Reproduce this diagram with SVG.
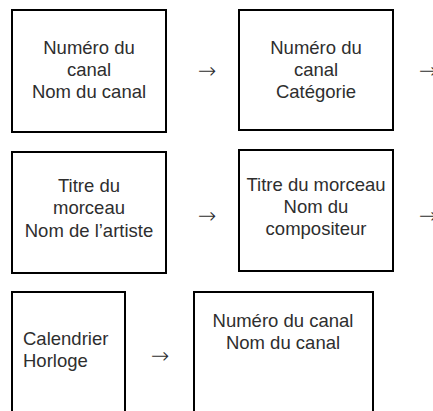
<svg xmlns="http://www.w3.org/2000/svg" width="433" height="411" viewBox="0 0 433 411">
<style>
.box{fill:#fff;stroke:#000;stroke-width:2}
.t{font-family:"Liberation Sans",Arial,sans-serif;font-size:18.5px;fill:#2e2e2e;text-anchor:middle}
.l{text-anchor:start}
.a{font-family:"DejaVu Sans",sans-serif;font-weight:200;font-size:22px;fill:#2e2e2e}
</style>
<rect width="433" height="411" fill="#fff"/>
<g id="n1"><rect class="box" x="12" y="10" width="154" height="122"/>
<text class="t" x="89" y="54">Numéro du</text><text class="t" x="89" y="76">canal</text><text class="t" x="89" y="98">Nom du canal</text></g>
<g id="n2"><rect class="box" x="239" y="10" width="154" height="120"/>
<text class="t" x="316" y="54">Numéro du</text><text class="t" x="316" y="76">canal</text><text class="t" x="316" y="98">Catégorie</text></g>
<g id="n3"><rect class="box" x="12" y="152" width="154" height="121"/>
<text class="t" x="89" y="192">Titre du</text><text class="t" x="89" y="214">morceau</text><text class="t" x="89" y="237">Nom de l’artiste</text></g>
<g id="n4"><rect class="box" x="239" y="150" width="154" height="121"/>
<text class="t" x="316" y="191">Titre du morceau</text><text class="t" x="316" y="213">Nom du</text><text class="t" x="316" y="235">compositeur</text></g>
<g id="n5"><rect class="box" x="12" y="292" width="113" height="130"/>
<text class="t l" x="23" y="345">Calendrier</text><text class="t l" x="23" y="367">Horloge</text></g>
<g id="n6"><rect class="box" x="194" y="292" width="179" height="130"/>
<text class="t" x="283" y="327">Numéro du canal</text><text class="t" x="283" y="349">Nom du canal</text></g>
<g id="connectors">
<text class="a" x="198" y="78">→</text>
<text class="a" x="419" y="78">→</text>
<text class="a" x="198" y="223">→</text>
<text class="a" x="419" y="223">→</text>
<text class="a" x="151" y="363">→</text>
</g>
</svg>
